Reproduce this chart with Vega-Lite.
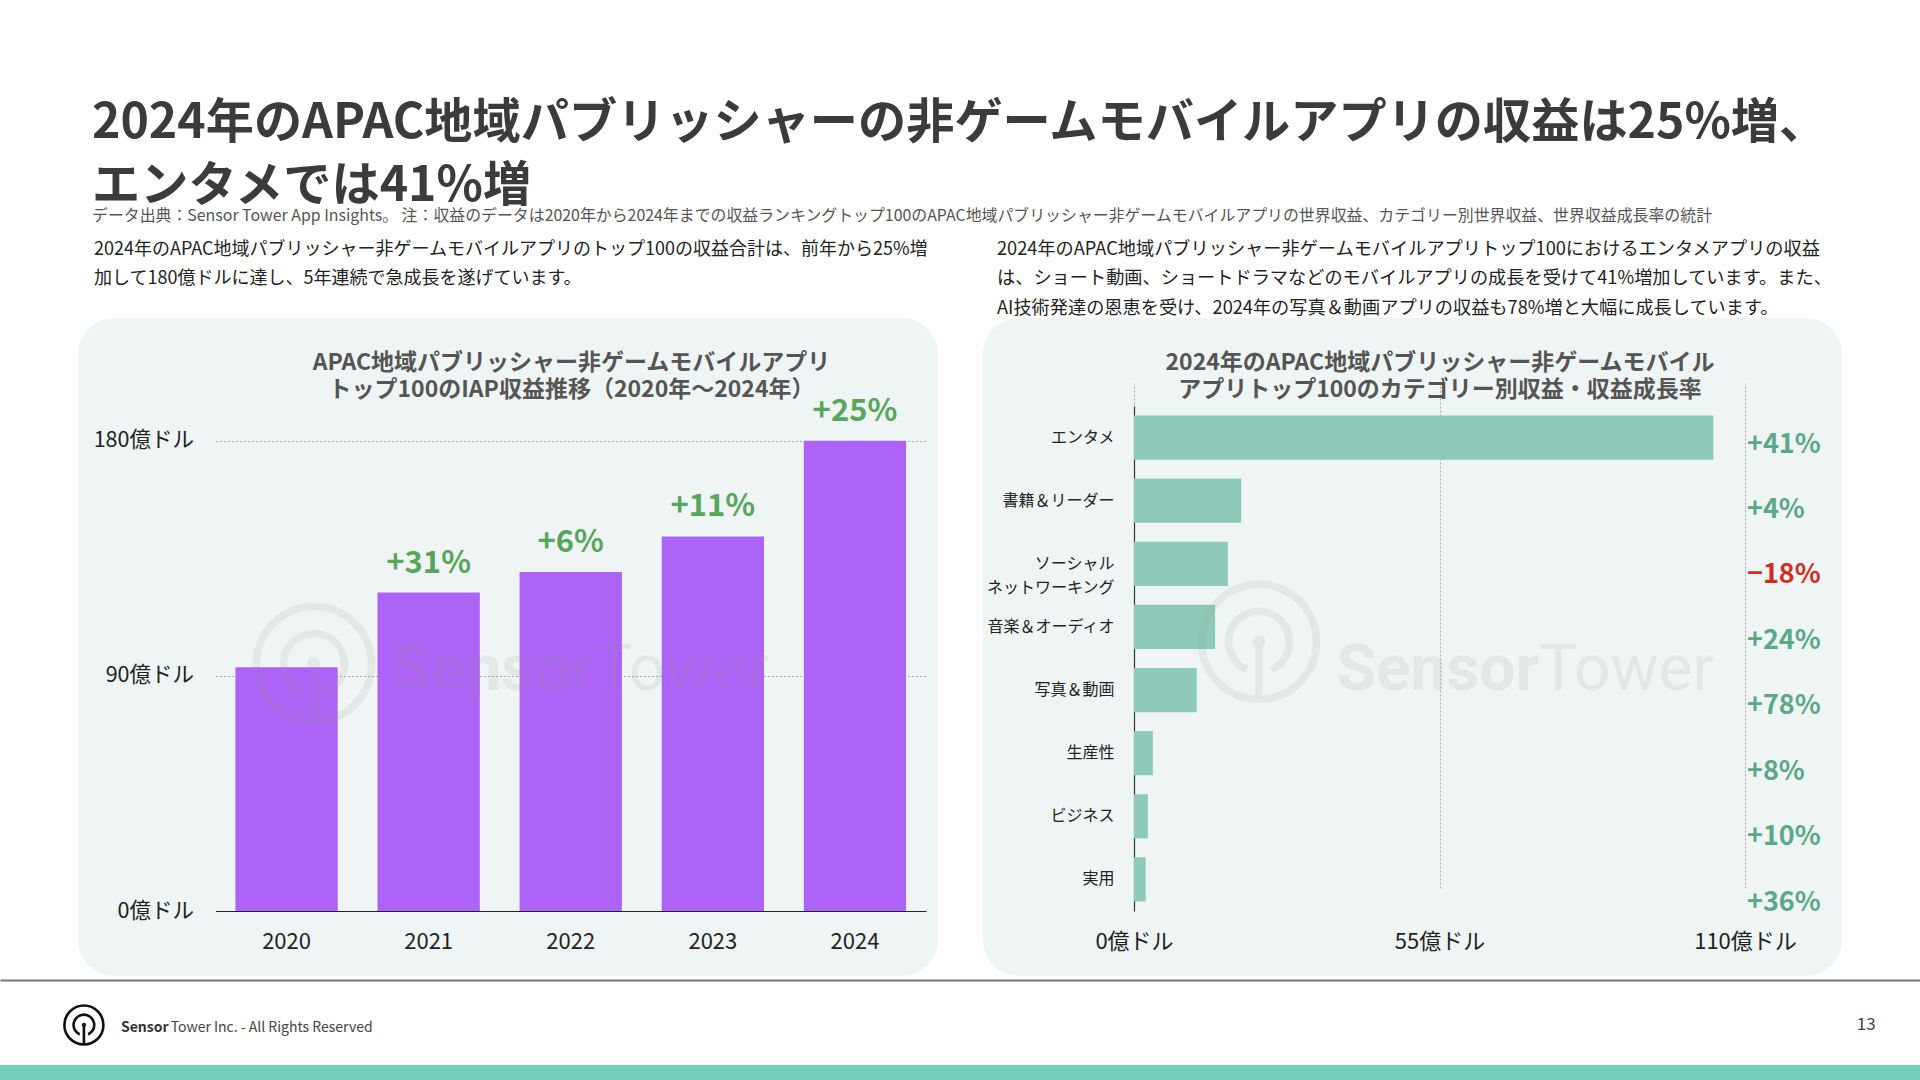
{
  "$schema": "https://vega.github.io/schema/vega-lite/v6.json",
  "background": "white",
  "padding": {"top": 98, "left": 0, "right": 0, "bottom": 0},
  "config": {"font": "Noto Sans CJK JP", "view": {"stroke": null}},
  "title": {
    "text": ["2024年のAPAC地域パブリッシャーの非ゲームモバイルアプリの収益は25%増、", "エンタメでは41%増"],
    "subtitle": "データ出典：Sensor Tower App Insights。 注：収益のデータは2020年から2024年までの収益ランキングトップ100のAPAC地域パブリッシャー非ゲームモバイルアプリの世界収益、カテゴリー別世界収益、世界収益成長率の統計",
    "anchor": "start", "dx": 92, "fontSize": 48.2, "fontWeight": "bold", "color": "#3b3b3b", "lineHeight": 63,
    "subtitleFontSize": 15.9, "subtitleColor": "#555", "subtitlePadding": -2.7, "offset": 14.4
  },
  "spacing": 4,
  "vconcat": [
    {
      "spacing": 45,
      "hconcat": [
        {"width": 33, "height": 10, "data": {"values": []}, "mark": "point"},
        {
          "width": 860, "height": 658,
          "view": {"fill": "#eff5f4", "stroke": null, "cornerRadius": 36},
          "title": {
            "text": ["2024年のAPAC地域パブリッシャー非ゲームモバイルアプリのトップ100の収益合計は、前年から25%増", "加して180億ドルに達し、5年連続で急成長を遂げています。"],
            "anchor": "start", "dx": 16, "offset": 30, "fontSize": 18, "fontWeight": "normal", "lineHeight": 29.5, "color": "#222"
          },
          "data": {"values": [
            {"year": "2020", "revenue": 93.3, "growth": null},
            {"year": "2021", "revenue": 121.9, "growth": 0.31},
            {"year": "2022", "revenue": 129.8, "growth": 0.06},
            {"year": "2023", "revenue": 143.4, "growth": 0.11},
            {"year": "2024", "revenue": 180, "growth": 0.25}
          ]},
          "encoding": {
            "x": {
              "field": "year", "type": "nominal",
              "scale": {"range": [137.5, 848], "paddingInner": 0.28, "paddingOuter": 0.14},
              "axis": {
                "orient": "bottom", "offset": -65, "zindex": 1,
                "title": ["APAC地域パブリッシャー非ゲームモバイルアプリ", "トップ100のIAP収益推移（2020年～2024年）"],
                "titleX": 493, "titleY": -560, "titleAlign": "center", "titleBaseline": "top", "titleAngle": 0,
                "titleFontSize": 23, "titleFontWeight": "bold", "titleColor": "#555", "titleLineHeight": 27,
                "labelAngle": 0, "labelFontSize": 22, "labelColor": "#222", "labelPadding": 20,
                "ticks": false, "domainColor": "#222", "domainWidth": 1.2, "grid": false
              }
            },
            "y": {
              "field": "revenue", "type": "quantitative",
              "scale": {"domain": [0, 180], "range": [593, 122.8], "nice": false, "zero": true},
              "axis": {
                "orient": "left", "offset": -137.5, "values": [0, 90, 180],
                "labelExpr": "datum.value + '億ドル'", "title": null, "domain": false, "ticks": false,
                "labelPadding": 22, "labelFontSize": 21.5, "labelColor": "#222",
                "grid": true, "gridDash": [2, 2], "gridColor": "#aaa", "gridWidth": 1
              }
            }
          },
          "layer": [
            {"mark": {"type": "bar", "color": "#ad63f6"}},
            {
              "transform": [{"filter": "datum.growth != null"}],
              "mark": {"type": "text", "fontSize": 31, "fontWeight": "bold", "color": "#58a65b", "baseline": "middle", "dy": -29},
              "encoding": {"text": {"field": "growth", "type": "quantitative", "format": "+.0%"}}
            },
            {
              "transform": [{"filter": "datum.year == '2022'"}],
              "mark": {"type": "text", "font": "Roboto", "fontSize": 64, "fontWeight": "bold", "color": "#969696", "opacity": 0.13, "baseline": "alphabetic", "align": "right", "dx": 23},
              "encoding": {"y": {"datum": 84.6, "type": "quantitative"}, "text": {"value": "Sensor"}}
            },
            {
              "transform": [{"filter": "datum.year == '2022'"}],
              "mark": {"type": "text", "font": "Roboto", "fontSize": 64, "fontWeight": "normal", "color": "#969696", "opacity": 0.13, "baseline": "alphabetic", "align": "left", "dx": 23},
              "encoding": {"y": {"datum": 84.6, "type": "quantitative"}, "text": {"value": "Tower"}}
            },
            {
              "transform": [{"filter": "datum.year == '2020'"}],
              "mark": {"type": "point", "shape": "M1,0A1,1,0,1,1,-1,0A1,1,0,1,1,1,0M0.216,0.484A0.53,0.53,0,1,0,-0.216,0.484M0,0L0,1M0.045,0A0.045,0.045,0,1,1,-0.045,0A0.045,0.045,0,1,1,0.045,0", "filled": false, "size": 13225, "strokeWidth": 7.5, "color": "#969696", "opacity": 0.13},
              "encoding": {"xOffset": {"value": 78.6}, "y": {"datum": 94.6, "type": "quantitative"}}
            }
          ]
        },
        {
          "width": 859, "height": 658,
          "view": {"fill": "#eff5f4", "stroke": null, "cornerRadius": 36},
          "title": {
            "text": ["2024年のAPAC地域パブリッシャー非ゲームモバイルアプリトップ100におけるエンタメアプリの収益", "は、ショート動画、ショートドラマなどのモバイルアプリの成長を受けて41%増加しています。また、", "AI技術発達の恩恵を受け、2024年の写真＆動画アプリの収益も78%増と大幅に成長しています。"],
            "anchor": "start", "dx": 14, "offset": 0.1, "fontSize": 18.2, "fontWeight": "normal", "lineHeight": 29.5, "color": "#222"
          },
          "data": {"values": [
            {"category": "エンタメ", "revenue": 104.3, "growth": 0.41},
            {"category": "書籍＆リーダー", "revenue": 19.3, "growth": 0.04},
            {"category": "ソーシャルネットワーキング", "revenue": 16.9, "growth": -0.18},
            {"category": "音楽＆オーディオ", "revenue": 14.6, "growth": 0.24},
            {"category": "写真＆動画", "revenue": 11.3, "growth": 0.78},
            {"category": "生産性", "revenue": 3.4, "growth": 0.08},
            {"category": "ビジネス", "revenue": 2.5, "growth": 0.10},
            {"category": "実用", "revenue": 2.1, "growth": 0.36}
          ]},
          "layer": [
            {
              "layer": [
                {
                  "mark": {"type": "bar", "color": "#8ecab9"},
                  "encoding": {
                    "y": {
                      "field": "category", "type": "nominal", "sort": null,
                      "scale": {"domain": ["エンタメ", "書籍＆リーダー", "ソーシャルネットワーキング", "音楽＆オーディオ", "写真＆動画", "生産性", "ビジネス", "実用"], "range": [88, 593], "paddingInner": 0.3, "paddingOuter": 0.15},
                      "axis": {
                        "orient": "left", "offset": -151, "title": null, "domain": true, "domainColor": "#333", "domainWidth": 1.2,
                        "ticks": false, "labelPadding": 20, "labelFontSize": 16, "labelColor": "#222", "labelLineHeight": 24,
                        "labelExpr": "datum.label == 'ソーシャルネットワーキング' ? ['ソーシャル', 'ネットワーキング'] : datum.label"
                      }
                    },
                    "x": {
                      "field": "revenue", "type": "quantitative",
                      "scale": {"domain": [0, 110], "range": [151, 762], "nice": false},
                      "axis": {
                        "orient": "bottom", "offset": -65, "values": [0, 55, 110], "labelExpr": "datum.value + '億ドル'",
                        "labelFlush": false, "labelFontSize": 22, "labelColor": "#222", "labelPadding": 20,
                        "domain": false, "ticks": false, "grid": true, "gridDash": [2, 2], "gridColor": "#aaa", "gridWidth": 1,
                        "title": ["2024年のAPAC地域パブリッシャー非ゲームモバイル", "アプリトップ100のカテゴリー別収益・収益成長率"],
                        "titleX": 456.5, "titleY": -560, "titleAlign": "center", "titleBaseline": "top", "titleAngle": 0,
                        "titleFontSize": 23, "titleFontWeight": "bold", "titleColor": "#555", "titleLineHeight": 27
                      }
                    }
                  }
                },
                {
                  "data": {"values": [{"wm": "Sensor"}]},
                  "mark": {"type": "text", "font": "Roboto", "fontSize": 64, "fontWeight": "bold", "color": "#969696", "opacity": 0.13, "baseline": "alphabetic", "align": "right", "dy": 63},
                  "encoding": {"x": {"datum": 72.9, "type": "quantitative"}, "y": {"datum": "音楽＆オーディオ", "type": "nominal"}, "text": {"field": "wm"}}
                },
                {
                  "data": {"values": [{"wm": "Tower"}]},
                  "mark": {"type": "text", "font": "Roboto", "fontSize": 64, "fontWeight": "normal", "color": "#969696", "opacity": 0.13, "baseline": "alphabetic", "align": "left", "dy": 63},
                  "encoding": {"x": {"datum": 72.9, "type": "quantitative"}, "y": {"datum": "音楽＆オーディオ", "type": "nominal"}, "text": {"field": "wm"}}
                },
                {
                  "data": {"values": [{"wm": "logo"}]},
                  "mark": {"type": "point", "shape": "M1,0A1,1,0,1,1,-1,0A1,1,0,1,1,1,0M0.216,0.484A0.53,0.53,0,1,0,-0.216,0.484M0,0L0,1M0.045,0A0.045,0.045,0,1,1,-0.045,0A0.045,0.045,0,1,1,0.045,0", "filled": false, "size": 13225, "strokeWidth": 7.5, "color": "#969696", "opacity": 0.13},
                  "encoding": {"x": {"datum": 22.5, "type": "quantitative"}, "y": {"datum": "音楽＆オーディオ", "type": "nominal"}, "yOffset": {"value": 37}}
                }
              ]
            },
            {
              "mark": {"type": "text", "fontSize": 27, "fontWeight": "bold", "align": "left", "baseline": "middle", "dx": 2},
              "encoding": {
                "y": {"field": "category", "type": "nominal", "sort": null, "scale": {"type": "point", "domain": ["エンタメ", "書籍＆リーダー", "ソーシャルネットワーキング", "音楽＆オーディオ", "写真＆動画", "生産性", "ビジネス", "実用"], "range": [126.5, 584.5], "padding": 0}, "axis": null},
                "x": {"datum": 110},
                "text": {"field": "growth", "type": "quantitative", "format": "+.0%"},
                "color": {"condition": {"test": "datum.growth < 0", "value": "#cf2e1e"}, "value": "#5aa889"}
              }
            }
          ],
          "resolve": {"scale": {"y": "independent"}}
        }
      ]
    },
    {
      "width": 1920, "height": 81,
      "layer": [
        {
          "data": {"values": [{"text": "Sensor"}]},
          "mark": {"type": "text", "align": "left", "baseline": "middle", "fontWeight": "bold", "fontSize": 14, "color": "#333", "dy": 7.5},
          "encoding": {
            "x": {"datum": 0.063, "type": "quantitative", "scale": {"domain": [0, 1], "nice": false, "zero": false},
              "axis": {"orient": "top", "domain": true, "domainColor": "#777", "domainWidth": 2, "ticks": false, "labels": false, "grid": false, "title": null}},
            "text": {"field": "text"}
          }
        },
        {
          "data": {"values": [{"text": "Tower Inc. - All Rights Reserved"}]},
          "mark": {"type": "text", "align": "left", "baseline": "middle", "fontSize": 14, "color": "#444", "dy": 7.5},
          "encoding": {"x": {"datum": 0.0889}, "text": {"field": "text"}}
        },
        {
          "data": {"values": [{"text": "13"}]},
          "mark": {"type": "text", "align": "center", "baseline": "middle", "fontSize": 17, "color": "#444", "dy": 4},
          "encoding": {"x": {"datum": 0.972}, "text": {"field": "text"}}
        },
        {
          "data": {"values": [{"logo": "footer"}]},
          "mark": {"type": "point", "shape": "M1,0A1,1,0,1,1,-1,0A1,1,0,1,1,1,0M0.216,0.484A0.53,0.53,0,1,0,-0.216,0.484M0,0L0,1M0.045,0A0.045,0.045,0,1,1,-0.045,0A0.045,0.045,0,1,1,0.045,0", "filled": false, "size": 1521, "strokeWidth": 2.6, "color": "#111", "opacity": 1},
          "encoding": {"x": {"datum": 0.0437}, "yOffset": {"value": 4.5}}
        }
      ]
    },
    {
      "width": 1920, "height": 15,
      "view": {"fill": "#74cdb8", "stroke": null},
      "data": {"values": []},
      "mark": "point"
    }
  ]
}
